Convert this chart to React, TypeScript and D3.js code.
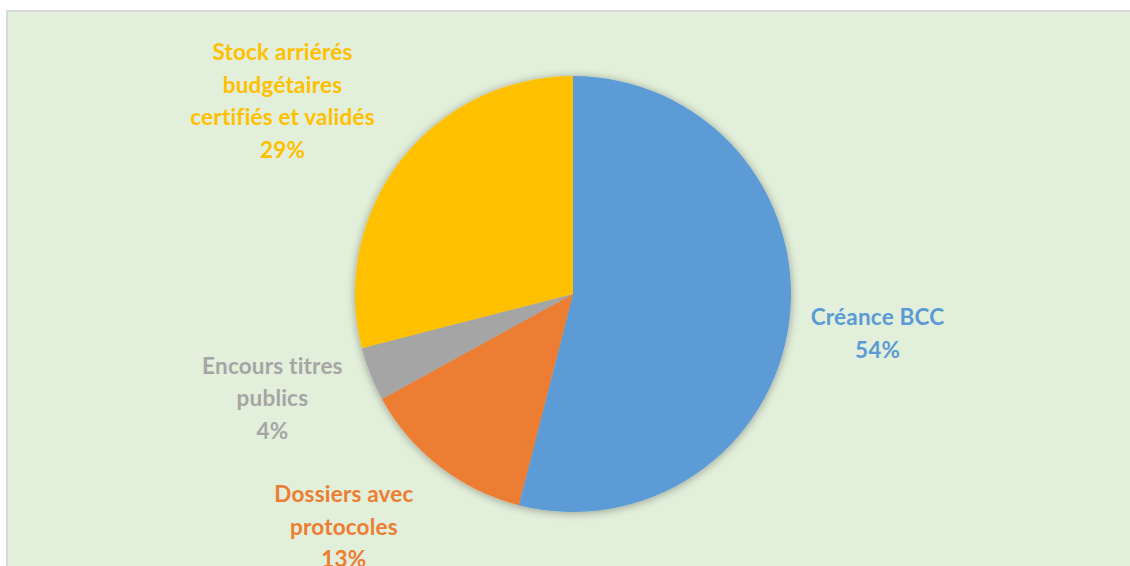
import React from "react";
import * as d3 from "d3";

const categories = [
  "Créance BCC",
  "Dossiers avec protocoles",
  "Encours titres publics",
  "Stock arriérés budgétaires certifiés et validés",
];
const labelLines = [
  ["Créance BCC"],
  ["Dossiers avec", "protocoles"],
  ["Encours titres", "publics"],
  ["Stock arriérés", "budgétaires", "certifiés et validés"],
];
const values = [54, 13, 4, 29];
const colors = ["#5B9BD5", "#ED7D31", "#A5A5A5", "#FFC000"];

// label placement (style): radius from center, angle shift and pixel nudges
const labelRadius = [306, 318, 316, 340];
const labelAngleShift = [0, 7, 2.5, -4];
const labelNudgeX = [1, -5, -2, -8];
const labelNudgeY = [0, 6, 0, -5];

const W = 1130;
const H = 566;
const cx = 573;
const cy = 294;
const R = 218;
const lineH = 32.7;

export default function App() {
  const pie = d3
    .pie<number>()
    .sort(null)
    .value((d) => d);
  const arcs = pie(values);
  const arc = d3.arc<d3.PieArcDatum<number>>().innerRadius(0).outerRadius(R);
  const total = d3.sum(values);

  return (
    <svg
      width={W}
      height={H}
      style={{ position: "absolute", left: 0, top: 0, display: "block" }}
    >
      <defs>
        <filter id="glow" x="-20%" y="-20%" width="140%" height="140%">
          <feGaussianBlur in="SourceAlpha" stdDeviation="4" />
          <feOffset dx="0" dy="1" result="b" />
          <feFlood floodColor="#000" floodOpacity="0.35" />
          <feComposite in2="b" operator="in" />
          <feMerge>
            <feMergeNode />
            <feMergeNode in="SourceGraphic" />
          </feMerge>
        </filter>
      </defs>
      <rect x={0} y={0} width={W} height={H} fill="#fff" />
      <rect
        x={7}
        y={11}
        width={W}
        height={H}
        fill="#E2EFDA"
        stroke="#D9D9D9"
        strokeWidth={2}
      />
      <g transform={`translate(${cx},${cy})`}>
        <g filter="url(#glow)">
          {arcs.map((a, i) => (
            <path key={categories[i]} d={arc(a) || ""} fill={colors[i]} />
          ))}
        </g>
        {arcs.map((a, i) => {
          const mid =
            (a.startAngle + a.endAngle) / 2 + (labelAngleShift[i] * Math.PI) / 180;
          const lx = labelRadius[i] * Math.sin(mid) + labelNudgeX[i];
          const ly = -labelRadius[i] * Math.cos(mid) + labelNudgeY[i];
          const lines = [
            ...labelLines[i],
            `${Math.round((values[i] / total) * 100)}%`,
          ];
          const y0 = ly - ((lines.length - 1) * lineH) / 2;
          return (
            <text
              key={categories[i]}
              x={lx}
              y={y0}
              textAnchor="middle"
              dominantBaseline="central"
              fill={colors[i]}
              fontFamily="Lato, 'Open Sans', sans-serif"
              fontWeight={700}
              fontSize={22.5}
              letterSpacing={0.2}
            >
              {lines.map((t, j) => (
                <tspan key={j} x={lx} y={y0 + j * lineH}>
                  {t}
                </tspan>
              ))}
            </text>
          );
        })}
      </g>
    </svg>
  );
}
